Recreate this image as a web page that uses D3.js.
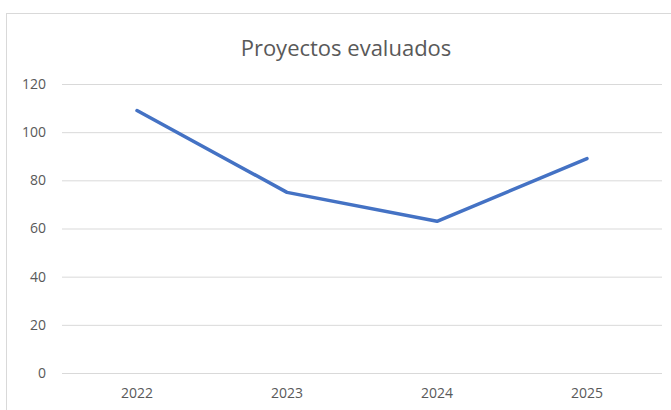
<!DOCTYPE html>
<html><head><meta charset="utf-8">
<script src="https://cdn.jsdelivr.net/npm/d3@7"></script>
<style>html,body{margin:0;padding:0;background:#fff;overflow:hidden}</style>
</head><body>
<svg id="chart" width="671" height="410"></svg>
<script>
const categories = ["2022", "2023", "2024", "2025"];
const values = [109, 75, 63, 89];
const yTicks = [0, 20, 40, 60, 80, 100, 120];
const title = "Proyectos evaluados";

const svg = d3.select("#chart");
const font = "'Open Sans', 'Liberation Sans', sans-serif";

svg.append("rect").attr("x", 6.5).attr("y", 13.5).attr("width", 700).attr("height", 450)
  .attr("fill", "#fff").attr("stroke", "#d9d9d9").attr("stroke-width", 1);

const x = d3.scaleBand().domain(categories).range([62, 662]);
const y = d3.scaleLinear().domain([0, 120]).range([373, 84]);

const yAxis = svg.append("g").attr("transform", "translate(62,0)")
  .call(d3.axisLeft(y).tickValues(yTicks).tickSize(-600).tickPadding(16));
yAxis.select(".domain").remove();
yAxis.selectAll(".tick line").attr("stroke", "#d9d9d9").attr("stroke-width", 1);
yAxis.selectAll(".tick text").attr("fill", "#595959").style("font-family", font).style("font-size", "14px");

const xAxis = svg.append("g").attr("transform", "translate(0,373)")
  .call(d3.axisBottom(x).tickSize(0).tickPadding(15));
xAxis.select(".domain").remove();
xAxis.selectAll(".tick text").attr("fill", "#595959").style("font-family", font).style("font-size", "14px");

const line = d3.line().x((d, i) => x(categories[i]) + x.bandwidth() / 2).y(d => y(d));
svg.append("path").datum(values).attr("d", line).attr("fill", "none")
  .attr("stroke", "#4472C4").attr("stroke-width", 3.5)
  .attr("stroke-linecap", "round").attr("stroke-linejoin", "round");

svg.append("text").attr("x", 346).attr("y", 56).attr("text-anchor", "middle")
  .attr("fill", "#595959").style("font-family", font).style("font-size", "22px").text(title);
</script>
</body></html>
